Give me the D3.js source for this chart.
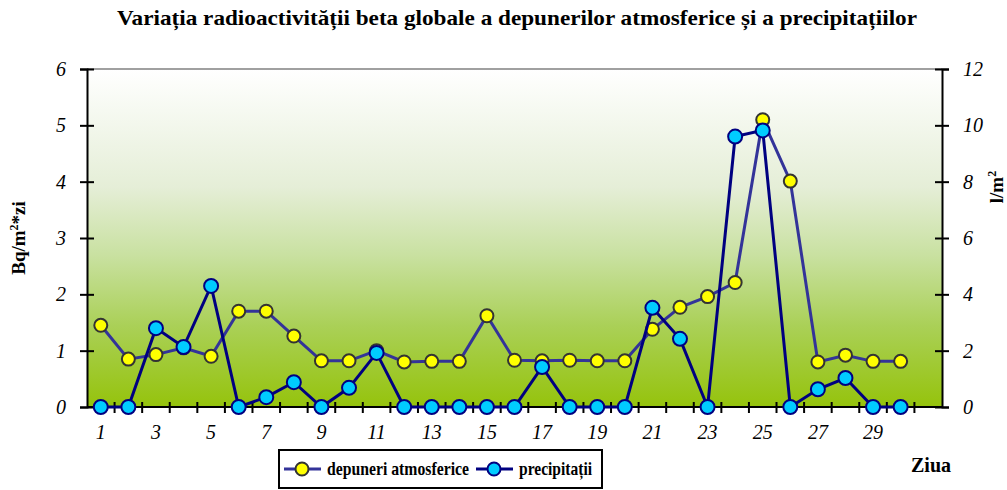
<!DOCTYPE html>
<html>
<head>
<meta charset="utf-8">
<script src="https://cdn.jsdelivr.net/npm/d3@7"></script>
<style>
  body { margin: 0; background: #fff; }
  text { font-family: "Liberation Serif", "Times New Roman", serif; }
</style>
</head>
<body>
<div id="chart"></div>
<script>
// zilele lunii (31 categorii, ultima fara date)
var days = d3.range(1, 32);
var dayLabels = [1, 3, 5, 7, 9, 11, 13, 15, 17, 19, 21, 23, 25, 27, 29];

// depuneri atmosferice, Bq/m2*zi (axa stanga)
var depuneri = [1.45, 0.85, 0.93, 1.05, 0.9, 1.7, 1.7, 1.26, 0.82, 0.82,
  1.0, 0.8, 0.81, 0.81, 1.62, 0.83, 0.82, 0.83, 0.82, 0.82,
  1.38, 1.77, 1.96, 2.21, 5.1, 4.01, 0.8, 0.92, 0.81, 0.81];

// precipitatii, l/m2 (axa dreapta)
var precipitatii = [0, 0, 2.8, 2.13, 4.3, 0, 0.35, 0.88, 0, 0.68,
  1.92, 0, 0, 0, 0, 0, 1.42, 0, 0, 0,
  3.52, 2.42, 0, 9.6, 9.82, 0, 0.63, 1.03, 0, 0];

var leftTicks = [0, 1, 2, 3, 4, 5, 6];
var rightTicks = [0, 2, 4, 6, 8, 10, 12];

var svgWidth = 1007, svgHeight = 490;
var margin = { top: 69, right: 65, bottom: 83, left: 87 };
var width = svgWidth - margin.left - margin.right;
var height = svgHeight - margin.top - margin.bottom;

var svg = d3.select("#chart").append("svg")
  .attr("width", svgWidth)
  .attr("height", svgHeight);

var defs = svg.append("defs");
var grad = defs.append("linearGradient")
  .attr("id", "bg").attr("x1", 0).attr("y1", 0).attr("x2", 0).attr("y2", 1);
[[0, "#ffffff"], [0.35, "#e5eed7"], [0.55, "#c9e1a1"], [0.76, "#aad057"], [1, "#95c30c"]]
  .forEach(function(s) {
    grad.append("stop").attr("offset", s[0]).attr("stop-color", s[1]);
  });

svg.append("text")
  .attr("x", 517).attr("y", 25)
  .attr("text-anchor", "middle")
  .attr("textLength", 800).attr("lengthAdjust", "spacingAndGlyphs")
  .style("font-size", "21px").style("font-weight", "bold")
  .text("Variația radioactivității beta globale a depunerilor atmosferice și a precipitațiilor");

var chartGroup = svg.append("g")
  .attr("transform", `translate(${margin.left}, ${margin.top})`);

var xScale = d3.scaleBand().domain(days).range([0, width]);
var yLeft = d3.scaleLinear().domain([0, 6]).range([height, 0]);
var yRight = d3.scaleLinear().domain([0, 12]).range([height, 0]);

chartGroup.append("rect")
  .attr("width", width).attr("height", height)
  .attr("fill", "url(#bg)");

chartGroup.append("line")
  .attr("x1", 0).attr("x2", width).attr("y1", 0).attr("y2", 0)
  .attr("stroke", "#808080").attr("stroke-width", 1.5);

// axa x: liniute intre categorii
var xAxis = chartGroup.append("g");
xAxis.append("line")
  .attr("x1", 0).attr("x2", width).attr("y1", height).attr("y2", height)
  .attr("stroke", "#000").attr("stroke-width", 2);
xAxis.selectAll(".xt")
  .data(d3.range(1, days.length))
  .enter().append("line")
  .attr("x1", i => i * xScale.bandwidth()).attr("x2", i => i * xScale.bandwidth())
  .attr("y1", height - 5).attr("y2", height + 6)
  .attr("stroke", "#000").attr("stroke-width", 2);
xAxis.selectAll(".xl")
  .data(dayLabels)
  .enter().append("text")
  .attr("x", d => xScale(d) + xScale.bandwidth() / 2)
  .attr("y", height + 32)
  .attr("text-anchor", "middle")
  .style("font-size", "20px").style("font-style", "italic")
  .text(d => d);

// axa stanga
var leftAxis = d3.axisLeft(yLeft).tickValues(leftTicks).tickFormat(d3.format("d"))
  .tickSize(7).tickPadding(14);
var la = chartGroup.append("g").call(leftAxis);
la.select(".domain").attr("stroke-width", 2);
la.selectAll(".tick line").attr("x2", -7).attr("x1", 7).attr("stroke-width", 2);
la.selectAll(".tick text")
  .style("font-family", "Liberation Serif, serif")
  .style("font-size", "20px").style("font-style", "italic").attr("fill", "#000");

// axa dreapta
var rightAxis = d3.axisRight(yRight).tickValues(rightTicks).tickFormat(d3.format("d"))
  .tickSize(7).tickPadding(14);
var ra = chartGroup.append("g")
  .attr("transform", `translate(${width}, 0)`)
  .call(rightAxis);
ra.select(".domain").attr("stroke-width", 2);
ra.selectAll(".tick line").attr("x1", -7).attr("x2", 7).attr("stroke-width", 2);
ra.selectAll(".tick text")
  .style("font-family", "Liberation Serif, serif")
  .style("font-size", "20px").style("font-style", "italic").attr("fill", "#000");

var cx = (d, i) => xScale(days[i]) + xScale.bandwidth() / 2;

// depuneri atmosferice
var lineDep = d3.line().x(cx).y(d => yLeft(d));
chartGroup.append("path")
  .datum(depuneri)
  .attr("d", lineDep)
  .attr("fill", "none").attr("stroke", "#333399").attr("stroke-width", 3);
chartGroup.append("g").selectAll("circle")
  .data(depuneri).enter().append("circle")
  .attr("cx", cx).attr("cy", d => yLeft(d))
  .attr("r", 6.5)
  .attr("fill", "#ffff00").attr("stroke", "#333333").attr("stroke-width", 2);

// precipitatii
var linePrec = d3.line().x(cx).y(d => yRight(d));
chartGroup.append("path")
  .datum(precipitatii)
  .attr("d", linePrec)
  .attr("fill", "none").attr("stroke", "#000080").attr("stroke-width", 3);
chartGroup.append("g").selectAll("circle")
  .data(precipitatii).enter().append("circle")
  .attr("cx", cx).attr("cy", d => yRight(d))
  .attr("r", 7)
  .attr("fill", "#00ccff").attr("stroke", "#000080").attr("stroke-width", 2);

// titluri axe
svg.append("text")
  .attr("transform", "translate(25, 238) rotate(-90)")
  .attr("text-anchor", "middle")
  .style("font-size", "19px").style("font-weight", "bold")
  .html("Bq/m<tspan baseline-shift='super' font-size='12px'>2</tspan>*zi");

svg.append("text")
  .attr("transform", "translate(1003, 187) rotate(-90)")
  .attr("text-anchor", "middle")
  .style("font-size", "19px").style("font-weight", "bold")
  .html("l/m<tspan baseline-shift='super' font-size='12px'>2</tspan>");

svg.append("text")
  .attr("x", 931).attr("y", 472)
  .attr("text-anchor", "middle")
  .style("font-size", "20px").style("font-weight", "bold")
  .text("Ziua");

// legenda
var legend = svg.append("g");
legend.append("rect")
  .attr("x", 279).attr("y", 450).attr("width", 323).attr("height", 38)
  .attr("fill", "#fff").attr("stroke", "#000").attr("stroke-width", 2);

var legendItems = [
  { name: "depuneri atmosferice", x: 284, len: 142, line: "#333399", fill: "#ffff00", stroke: "#333333" },
  { name: "precipitații", x: 476, len: 73, line: "#000080", fill: "#00ccff", stroke: "#000080" }
];
legendItems.forEach(function(it) {
  legend.append("line")
    .attr("x1", it.x).attr("x2", it.x + 37).attr("y1", 469).attr("y2", 469)
    .attr("stroke", it.line).attr("stroke-width", 3);
  legend.append("circle")
    .attr("cx", it.x + 18).attr("cy", 469).attr("r", 6.5)
    .attr("fill", it.fill).attr("stroke", it.stroke).attr("stroke-width", 2);
  legend.append("text")
    .attr("x", it.x + 43).attr("y", 475)
    .attr("textLength", it.len).attr("lengthAdjust", "spacingAndGlyphs")
    .style("font-size", "19px").style("font-weight", "bold")
    .text(it.name);
});
</script>
</body>
</html>
